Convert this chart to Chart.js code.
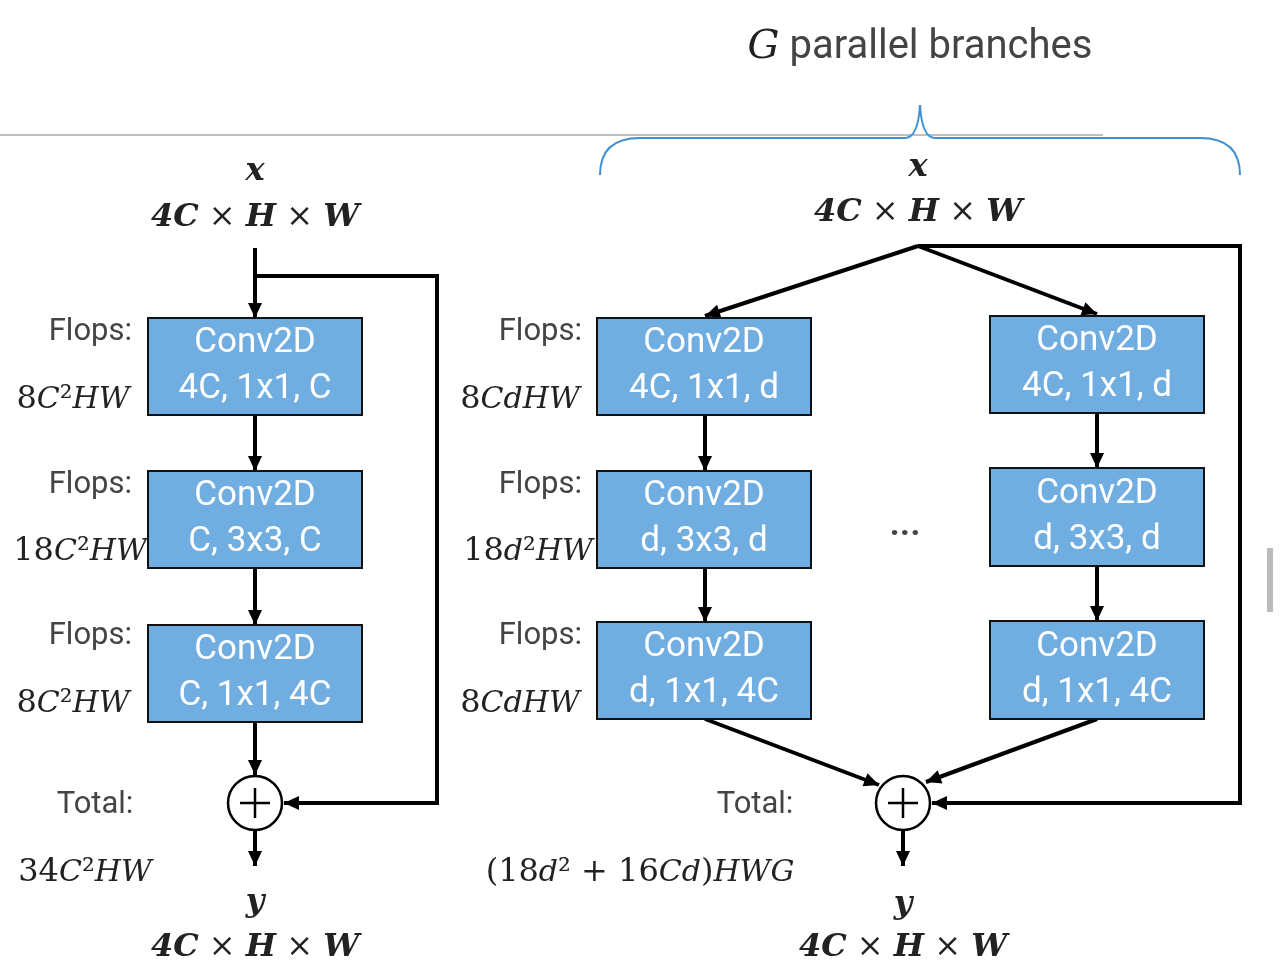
<!DOCTYPE html>
<html><head><meta charset="utf-8">
<script src="https://cdn.jsdelivr.net/npm/chart.js@4"></script>
<style>html,body{margin:0;background:#fff;overflow:hidden}#wrap{width:1280px;height:979px}</style>
</head><body><div id="wrap"><canvas id="c"></canvas></div>
<script>
// blocks: [x0, y0, x1, y1, line1, line2]
const blocks = [
  [148, 318, 362, 415, "Conv2D", "4C, 1x1, C"],
  [148, 471, 362, 568, "Conv2D", "C, 3x3, C"],
  [148, 625, 362, 722, "Conv2D", "C, 1x1, 4C"],
  [597, 318, 811, 415, "Conv2D", "4C, 1x1, d"],
  [597, 471, 811, 568, "Conv2D", "d, 3x3, d"],
  [597, 622, 811, 719, "Conv2D", "d, 1x1, 4C"],
  [990, 316, 1204, 413, "Conv2D", "4C, 1x1, d"],
  [990, 468, 1204, 566, "Conv2D", "d, 3x3, d"],
  [990, 621, 1204, 719, "Conv2D", "d, 1x1, 4C"]
];
// arrows: polylines, arrowhead at last point
const arrows = [
  [[255,248],[255,318]], [[255,415],[255,471]], [[255,568],[255,625]], [[255,722],[255,775]],
  [[255,831],[255,866]], [[255,276],[437,276],[437,803],[284,803]],
  [[918,246],[705,316]], [[918,246],[1097,314]],
  [[705,415],[705,471]], [[705,568],[705,622]], [[1097,413],[1097,468]], [[1097,566],[1097,621]],
  [[705,719],[879,785]], [[1097,719],[926,782]],
  [[903,831],[903,866]], [[918,246],[1240,246],[1240,803],[932,803]]
];
const sums = [[255,803],[903,803]];
const M = "italic 30px 'DejaVu Serif'";
const MB = "bold italic 32px 'DejaVu Serif'";
const R = "32px 'DejaVu Serif'";
const T = "31px Roboto";
// labels: [x, y, align, runs]
const labels = [
  [255,172,"center",[["x",MB]]], [255,218,"center",[["4C",MB],[" × ",R],["H",MB],[" × ",R],["W",MB]]],
  [918,168,"center",[["x",MB]]], [918,213,"center",[["4C",MB],[" × ",R],["H",MB],[" × ",R],["W",MB]]],
  [255,903,"center",[["y",MB]]], [255,948,"center",[["4C",MB],[" × ",R],["H",MB],[" × ",R],["W",MB]]],
  [903,905,"center",[["y",MB]]], [903,948,"center",[["4C",MB],[" × ",R],["H",MB],[" × ",R],["W",MB]]],
  [132,332,"right",[["Flops:",T]]], [132,485,"right",[["Flops:",T]]], [132,636,"right",[["Flops:",T]]],
  [582,332,"right",[["Flops:",T]]], [582,485,"right",[["Flops:",T]]], [582,636,"right",[["Flops:",T]]],
  [73,400,"center",[["8",R],["C",M],["²",R],["HW",M]]],
  [80,552,"center",[["18",R],["C",M],["²",R],["HW",M]]],
  [73,704,"center",[["8",R],["C",M],["²",R],["HW",M]]],
  [520,400,"center",[["8",R],["CdHW",M]]],
  [528,552,"center",[["18",R],["d",M],["²",R],["HW",M]]],
  [520,704,"center",[["8",R],["CdHW",M]]],
  [95,805,"center",[["Total:",T]]], [85,873,"center",[["34",R],["C",M],["²",R],["HW",M]]],
  [755,805,"center",[["Total:",T]]],
  [640,873,"center",[["(18",R],["d",M],["² + 16",R],["Cd",M],[")",R],["HWG",M]]],
  [905,535,"center",[["···",  "bold 34px Roboto"]]],
  [920,48,"center",[["G",  "italic 40px 'DejaVu Serif'"],[" parallel branches","40px Roboto"]]]
];

const datasets = arrows.map(a => ({
  data: a.map(p => ({x:p[0], y:p[1]})), showLine:true, borderColor:"#000", borderWidth:4,
  pointRadius:0, fill:false, tension:0
}));
datasets.push({data:[{x:0,y:135},{x:1103,y:135}], showLine:true, borderColor:"#aaa", borderWidth:1.5, pointRadius:0});

const diagram = {
  id:"diagram",
  afterDatasetsDraw(chart){
    const c = chart.ctx, xs = chart.scales.x, ys = chart.scales.y;
    const X = v => xs.getPixelForValue(v), Y = v => ys.getPixelForValue(v);
    c.save();
    // brace
    c.strokeStyle = "#3f8fd2"; c.lineWidth = 2; c.beginPath();
    c.moveTo(X(600),Y(175)); c.quadraticCurveTo(X(600),Y(138),X(640),Y(138));
    c.lineTo(X(905),Y(138)); c.quadraticCurveTo(X(918),Y(138),X(920),Y(105));
    c.quadraticCurveTo(X(922),Y(138),X(935),Y(138)); c.lineTo(X(1200),Y(138));
    c.quadraticCurveTo(X(1240),Y(138),X(1240),Y(175)); c.stroke();
    // arrowheads
    c.fillStyle = "#000";
    arrows.forEach(a => {
      const p = a[a.length-1], q = a[a.length-2];
      const ang = Math.atan2(Y(p[1])-Y(q[1]), X(p[0])-X(q[0]));
      c.save(); c.translate(X(p[0]),Y(p[1])); c.rotate(ang);
      c.beginPath(); c.moveTo(0,0); c.lineTo(-15,-7); c.lineTo(-15,7); c.closePath(); c.fill(); c.restore();
    });
    // blocks
    blocks.forEach(b => {
      c.fillStyle = "#70ade0"; c.fillRect(X(b[0]),Y(b[1]),X(b[2])-X(b[0]),Y(b[3])-Y(b[1]));
      c.strokeStyle = "#111"; c.lineWidth = 2; c.strokeRect(X(b[0]),Y(b[1]),X(b[2])-X(b[0]),Y(b[3])-Y(b[1]));
      c.fillStyle = "#fff"; c.font = "35px Roboto"; c.textAlign = "center"; c.textBaseline = "middle";
      const cx = X((b[0]+b[2])/2), cy = (b[1]+b[3])/2;
      c.fillText(b[4], cx, Y(cy-23)); c.fillText(b[5], cx, Y(cy+23));
    });
    // sums
    sums.forEach(s => {
      c.beginPath(); c.arc(X(s[0]),Y(s[1]),27,0,Math.PI*2); c.fillStyle="#fff"; c.fill();
      c.lineWidth = 2.5; c.strokeStyle = "#000"; c.stroke();
      c.beginPath(); c.moveTo(X(s[0]-15),Y(s[1])); c.lineTo(X(s[0]+15),Y(s[1]));
      c.moveTo(X(s[0]),Y(s[1]-15)); c.lineTo(X(s[0]),Y(s[1]+15)); c.lineWidth = 2.5; c.stroke();
    });
    // labels
    c.textBaseline = "middle"; c.textAlign = "left";
    labels.forEach(l => {
      let w = 0;
      l[3].forEach(r => { c.font = r[1]; w += c.measureText(r[0]).width; });
      let x = X(l[0]);
      if (l[2] === "center") x -= w/2; else if (l[2] === "right") x -= w;
      l[3].forEach(r => {
        c.font = r[1]; c.fillStyle = r[1] === T || r[1].includes("Roboto") ? "#444" : "#222";
        c.fillText(r[0], x, Y(l[1])); x += c.measureText(r[0]).width;
      });
    });
    c.fillStyle = "#bbb"; c.fillRect(X(1267),Y(548),6,64);
    c.restore();
  }
};

new Chart(document.getElementById("c"), {
  type:"scatter",
  data:{datasets},
  options:{
    responsive:true, maintainAspectRatio:false, animation:false,
    layout:{padding:0},
    plugins:{legend:{display:false}, tooltip:{enabled:false}},
    scales:{
      x:{type:"linear", min:0, max:1280, display:false},
      y:{type:"linear", min:0, max:979, reverse:true, display:false}
    }
  },
  plugins:[diagram]
});
</script></body></html>
